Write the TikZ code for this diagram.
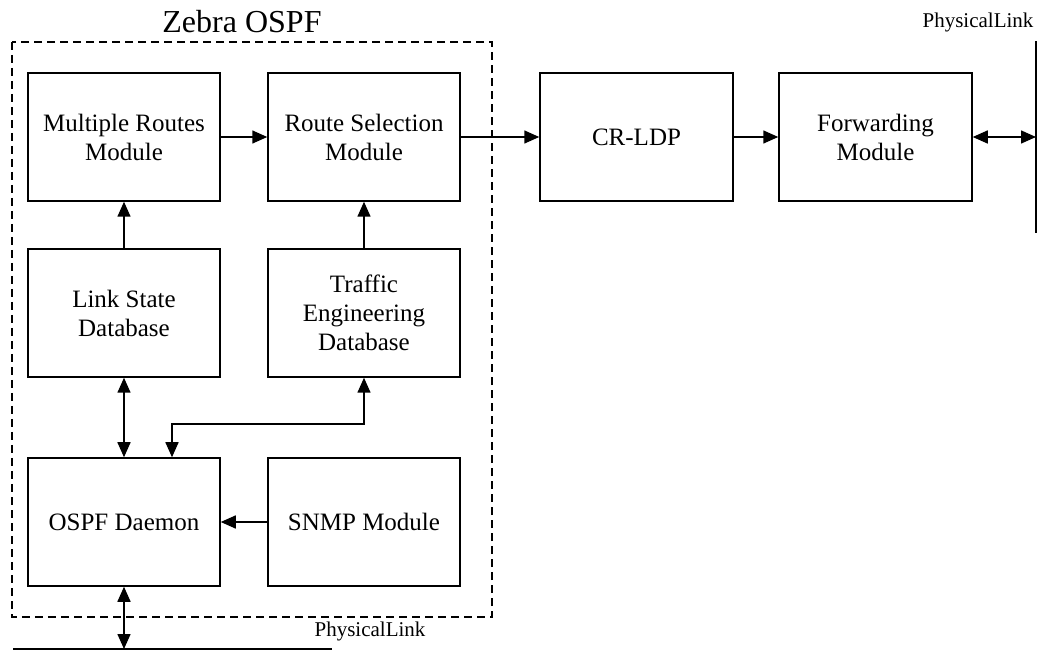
\documentclass[tikz,border=0pt]{standalone}
\usepackage{fontspec}
\setmainfont{Liberation Serif}
\usetikzlibrary{arrows.meta,calc}
\begin{document}
\begin{tikzpicture}[x=1pt,y=-1pt,
  module/.style={draw, line width=1.5pt, minimum width=192pt, minimum height=128pt,
    inner sep=0pt, align=center, font=\fontsize{25}{29}\selectfont},
  conn/.style={line width=1.5pt},
  tip/.style={-{Triangle[length=15pt,width=13pt]}},
  tips/.style={{Triangle[length=15pt,width=13pt]}-{Triangle[length=15pt,width=13pt]}},
  linklabel/.style={font=\fontsize{21}{24}\selectfont, inner sep=0pt}
]
\useasboundingbox (0,0) rectangle (1037,652);

% Zebra OSPF boundary
\draw[line width=1.5pt, dash pattern=on 8pt off 5pt] (12,42) rectangle (492,617);
\node[font=\fontsize{32}{36}\selectfont, inner sep=0pt] (title) at (242,22) {Zebra OSPF};

% modules
\node[module] (mr)   at (124,137) {Multiple Routes\\Module};
\node[module] (rs)   at (364,137) {Route Selection\\Module};
\node[module] (lsdb) at (124,313) {Link State\\Database};
\node[module] (tedb) at (364,313) {Traffic\\Engineering\\Database};
\node[module] (ospf) at (124,522) {OSPF Daemon};
\node[module] (snmp) at (364,522) {SNMP Module};
\node[module, minimum width=193pt] (crldp) at (636.5,137) {CR-LDP};
\node[module, minimum width=193pt] (fwd)   at (875.5,137) {Forwarding\\Module};

% physical links
\coordinate (plTop) at (1036,41);
\coordinate (plBot) at (1036,233);
\draw[line width=3pt] (plTop) -- (plBot);
\node[linklabel] (plLabelR) at (978,22) {PhysicalLink};

\coordinate (blL) at (13,649);
\coordinate (blR) at (332,649);
\draw[line width=2pt] (blL) -- (blR);
\node[linklabel] (plLabelB) at (370,631) {PhysicalLink};

% connectors
\draw[conn, tip] (mr.east) -- (rs.west);
\draw[conn, tip] (rs.east) -- (crldp.west);
\draw[conn, tip] (crldp.east) -- (fwd.west);
\draw[conn, tips] (fwd.east) -- (fwd.east -| plTop);
\draw[conn, tip] (lsdb.north) -- (mr.south);
\draw[conn, tip] (tedb.north) -- (rs.south);
\draw[conn, tips] (lsdb.south) -- (ospf.north);
\draw[conn, tips] (tedb.south) |- ($(ospf.north)+(48,-33)$) -- ($(ospf.north)+(48,0)$);
\draw[conn, tip] (snmp.west) -- (ospf.east);
\draw[conn, tips] (ospf.south) -- (ospf.south |- blL);
\end{tikzpicture}
\end{document}
